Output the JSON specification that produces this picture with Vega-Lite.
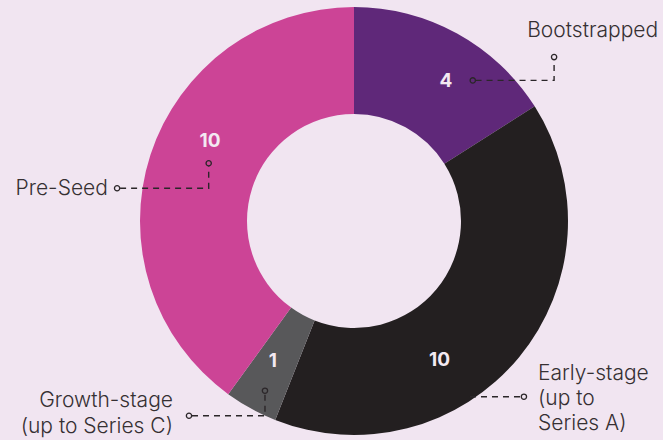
{
  "$schema": "https://vega.github.io/schema/vega-lite/v6.json",
  "autosize": {"type": "none"},
  "padding": {"left": 45, "top": 2, "right": 0, "bottom": 0},
  "width": 618,
  "height": 438,
  "background": "#f1e5f1",
  "config": {"view": {"stroke": null}, "font": "Inter"},
  "datasets": {
    "slices": [
      {"stage": "Bootstrapped", "count": 4, "order": 1},
      {"stage": "Early-stage", "count": 10, "order": 2},
      {"stage": "Growth-stage", "count": 1, "order": 3},
      {"stage": "Pre-Seed", "count": 10, "order": 4}
    ],
    "values": [
      {"stage": "Bootstrapped", "text": "4", "x": 0.43, "y": 0.652},
      {"stage": "Pre-Seed", "text": "10", "x": -0.673, "y": 0.374},
      {"stage": "Early-stage", "text": "10", "x": 0.4, "y": -0.65},
      {"stage": "Growth-stage", "text": "1", "x": -0.379, "y": -0.654}
    ],
    "labels": [
      {"stage": "Bootstrapped", "text": "Bootstrapped", "x": 1.421, "y": 0.858, "align": "right"},
      {"stage": "Pre-Seed", "text": "Pre-Seed", "x": -1.15, "y": 0.121, "align": "right"},
      {"stage": "Growth-stage", "text": "Growth-stage\n(up to Series C)", "x": -0.846, "y": -0.869, "align": "right"},
      {"stage": "Early-stage", "text": "Early-stage\n(up to\nSeries A)", "x": 0.86, "y": -0.743, "align": "left"}
    ],
    "leaders": [
      {"stage": "Bootstrapped", "i": 1, "x": 0.568, "y": 0.657},
      {"stage": "Bootstrapped", "i": 2, "x": 0.935, "y": 0.657},
      {"stage": "Bootstrapped", "i": 3, "x": 0.935, "y": 0.753},
      {"stage": "Pre-Seed", "i": 1, "x": -1.093, "y": 0.153},
      {"stage": "Pre-Seed", "i": 2, "x": -0.679, "y": 0.153},
      {"stage": "Pre-Seed", "i": 3, "x": -0.679, "y": 0.256},
      {"stage": "Growth-stage", "i": 1, "x": -0.757, "y": -0.91},
      {"stage": "Growth-stage", "i": 2, "x": -0.416, "y": -0.91},
      {"stage": "Growth-stage", "i": 3, "x": -0.416, "y": -0.806},
      {"stage": "Early-stage", "i": 1, "x": 0.542, "y": -0.821},
      {"stage": "Early-stage", "i": 2, "x": 0.78, "y": -0.821}
    ],
    "dots": [
      {"stage": "Bootstrapped", "x": 0.555, "y": 0.657},
      {"stage": "Bootstrapped", "x": 0.935, "y": 0.766},
      {"stage": "Pre-Seed", "x": -1.107, "y": 0.153},
      {"stage": "Pre-Seed", "x": -0.679, "y": 0.27},
      {"stage": "Growth-stage", "x": -0.771, "y": -0.91},
      {"stage": "Growth-stage", "x": -0.416, "y": -0.793},
      {"stage": "Early-stage", "x": 0.794, "y": -0.821}
    ]
  },
  "layer": [
    {
      "data": {"name": "slices"},
      "mark": {"type": "arc", "outerRadius": 214, "innerRadius": 107},
      "encoding": {
        "theta": {"field": "count", "type": "quantitative", "stack": true},
        "order": {"field": "order", "type": "quantitative"},
        "color": {
          "field": "stage",
          "type": "nominal",
          "scale": {
            "domain": ["Bootstrapped", "Early-stage", "Growth-stage", "Pre-Seed"],
            "range": ["#5f2879", "#231f20", "#58585a", "#cc4496"]
          },
          "legend": null
        }
      }
    },
    {
      "data": {"name": "leaders"},
      "mark": {"type": "line", "stroke": "#2b2629", "strokeWidth": 1.4, "strokeDash": [6, 5], "clip": false},
      "encoding": {
        "x": {"field": "x", "type": "quantitative", "scale": {"domain": [-1.4439, 1.4439], "nice": false, "zero": false}, "axis": null},
        "y": {"field": "y", "type": "quantitative", "scale": {"domain": [-1.0234, 1.0234], "nice": false, "zero": false}, "axis": null},
        "detail": {"field": "stage", "type": "nominal"},
        "order": {"field": "i", "type": "quantitative"}
      }
    },
    {
      "data": {"name": "dots"},
      "mark": {"type": "point", "filled": false, "stroke": "#2b2629", "strokeWidth": 1.3, "size": 28, "opacity": 1, "clip": false},
      "encoding": {
        "x": {"field": "x", "type": "quantitative", "scale": {"domain": [-1.4439, 1.4439], "nice": false, "zero": false}, "axis": null},
        "y": {"field": "y", "type": "quantitative", "scale": {"domain": [-1.0234, 1.0234], "nice": false, "zero": false}, "axis": null}
      }
    },
    {
      "data": {"name": "values"},
      "mark": {"type": "text", "fontSize": 19, "fontWeight": "bold", "color": "#f3e9f2", "baseline": "middle", "align": "center", "clip": false},
      "encoding": {
        "x": {"field": "x", "type": "quantitative", "scale": {"domain": [-1.4439, 1.4439], "nice": false, "zero": false}, "axis": null},
        "y": {"field": "y", "type": "quantitative", "scale": {"domain": [-1.0234, 1.0234], "nice": false, "zero": false}, "axis": null},
        "text": {"field": "text", "type": "nominal"}
      }
    },
    {
      "data": {"name": "labels"},
      "transform": [{"filter": "datum.align === 'right'"}],
      "mark": {"type": "text", "fontSize": 21, "fontWeight": 300, "color": "#363033", "baseline": "alphabetic", "align": "right", "lineBreak": "\n", "lineHeight": 26, "clip": false},
      "encoding": {
        "x": {"field": "x", "type": "quantitative", "scale": {"domain": [-1.4439, 1.4439], "nice": false, "zero": false}, "axis": null},
        "y": {"field": "y", "type": "quantitative", "scale": {"domain": [-1.0234, 1.0234], "nice": false, "zero": false}, "axis": null},
        "text": {"field": "text", "type": "nominal"}
      }
    },
    {
      "data": {"name": "labels"},
      "transform": [{"filter": "datum.align === 'left'"}],
      "mark": {"type": "text", "fontSize": 21, "fontWeight": 300, "color": "#363033", "baseline": "alphabetic", "align": "left", "lineBreak": "\n", "lineHeight": 25, "clip": false},
      "encoding": {
        "x": {"field": "x", "type": "quantitative", "scale": {"domain": [-1.4439, 1.4439], "nice": false, "zero": false}, "axis": null},
        "y": {"field": "y", "type": "quantitative", "scale": {"domain": [-1.0234, 1.0234], "nice": false, "zero": false}, "axis": null},
        "text": {"field": "text", "type": "nominal"}
      }
    }
  ]
}
